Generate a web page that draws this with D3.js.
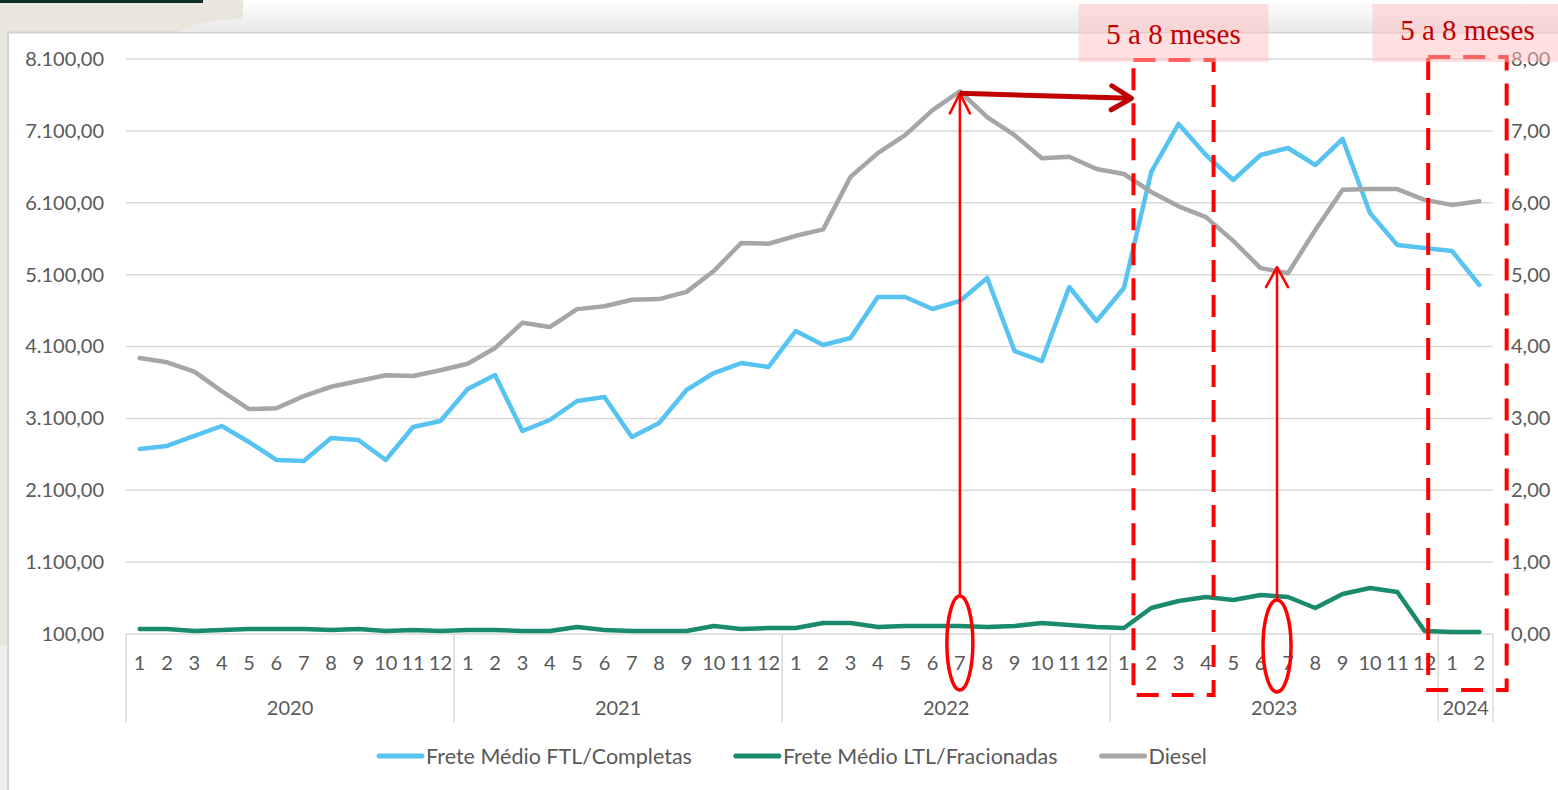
<!DOCTYPE html>
<html>
<head>
<meta charset="utf-8">
<script src="https://cdn.jsdelivr.net/npm/d3@7"></script>
<style>
  body { margin: 0; background: #ffffff; }
  svg { display: block; font-family: Lato, "Open Sans", sans-serif; }
</style>
</head>
<body>
<svg id="chart" width="1558" height="790"></svg>
<script>
"use strict";

// month labels and years
const months = [1,2,3,4,5,6,7,8,9,10,11,12, 1,2,3,4,5,6,7,8,9,10,11,12,
  1,2,3,4,5,6,7,8,9,10,11,12, 1,2,3,4,5,6,7,8,9,10,11,12, 1,2];
const years = ["2020", "2021", "2022", "2023", "2024"];
const yearCounts = [12, 12, 12, 12, 2];

// Frete Médio FTL/Completas (left axis)
const ftl = [2674, 2716, 2855, 2994, 2771, 2521, 2507, 2827, 2799, 2521, 2980, 3064,
  3509, 3703, 2924, 3077, 3342, 3397, 2841, 3036, 3495, 3731, 3870, 3815,
  4316, 4121, 4218, 4789, 4789, 4622, 4733, 5053, 4037, 3898, 4928, 4455,
  4914, 6528, 7196, 6764, 6417, 6764, 6862, 6625, 6987, 5958, 5512, 5470,
  5429, 4956];

// Frete Médio LTL/Fracionadas (left axis)
const ltl = [170, 170, 142, 156, 170, 170, 170, 156, 170, 142, 156, 142,
  156, 156, 142, 142, 197, 156, 142, 142, 142, 211, 170, 183,
  183, 253, 253, 197, 211, 211, 211, 197, 211, 253, 225, 197,
  183, 462, 559, 615, 573, 643, 615, 462, 657, 740, 684, 142,
  128, 128];

// Diesel (right axis)
const diesel = [3.84, 3.78, 3.65, 3.38, 3.13, 3.14, 3.31, 3.44, 3.52, 3.60, 3.59, 3.67,
  3.76, 3.98, 4.33, 4.27, 4.52, 4.56, 4.65, 4.66, 4.76, 5.05, 5.44, 5.43,
  5.54, 5.63, 6.36, 6.69, 6.94, 7.29, 7.55, 7.19, 6.94, 6.62, 6.64, 6.47,
  6.40, 6.15, 5.95, 5.80, 5.47, 5.09, 5.02, 5.62, 6.18, 6.19, 6.19, 6.04,
  5.97, 6.02];

const leftTicks = [100, 1100, 2100, 3100, 4100, 5100, 6100, 7100, 8100];
const rightTicks = [0, 1, 2, 3, 4, 5, 6, 7, 8];

const seriesList = [
  { name: "Frete Médio FTL/Completas", values: ftl, axis: "left", color: "#56c3f0" },
  { name: "Frete Médio LTL/Fracionadas", values: ltl, axis: "left", color: "#1a8a6c" },
  { name: "Diesel", values: diesel, axis: "right", color: "#a6a6a6" }
];

const textColor = "#595959";
const gridColor = "#d9d9d9";

const svg = d3.select("#chart");

const plot = { left: 126, right: 1493, top: 59, bottom: 634 };

const x = d3.scaleBand()
  .domain(d3.range(months.length))
  .range([plot.left, plot.right]);
const bw = x.bandwidth();
const xAt = i => plot.left + bw / 2 + i * bw;

const yL = d3.scaleLinear().domain([100, 8100]).range([plot.bottom, plot.top]);
const yR = d3.scaleLinear().domain([0, 8]).range([plot.bottom, plot.top]);

const ptBR = d3.formatLocale({ decimal: ",", thousands: ".", grouping: [3], currency: ["R$", ""] });
const fmtLeft = ptBR.format(",.2f");
const fmtRight = ptBR.format(".2f");

// slide background
function drawBackground()
{
  let grad = svg.append("defs").append("linearGradient")
    .attr("id", "topGrad")
    .attr("x1", 0).attr("y1", 0).attr("x2", 0).attr("y2", 1);
  grad.append("stop").attr("offset", "0%").attr("stop-color", "#ffffff");
  grad.append("stop").attr("offset", "100%").attr("stop-color", "#e8e8e8");

  svg.append("rect").attr("width", 1558).attr("height", 790).attr("fill", "#ffffff");
  svg.append("rect").attr("x", 0).attr("y", 0).attr("width", 1558).attr("height", 31)
    .attr("fill", "url(#topGrad)");
  svg.append("path")
    .attr("d", "M0,0 L243,0 L243,19 Q200,20 178,32 L7,32 L7,645 L0,645 Z")
    .attr("fill", "#e9e7dc");
  svg.append("rect").attr("x", 0).attr("y", 645).attr("width", 7).attr("height", 145)
    .attr("fill", "#efefef");
  svg.append("rect").attr("x", 0).attr("y", 0).attr("width", 203).attr("height", 3)
    .attr("fill", "#0e2e29");
  svg.append("path")
    .attr("d", "M8,790 L8,32.5 L1558,32.5")
    .attr("fill", "none")
    .attr("stroke", "#d4d4d4")
    .attr("stroke-width", 2);
}

function drawAxes()
{
  // gridlines
  svg.append("g")
    .selectAll("line")
    .data(leftTicks)
    .enter()
    .append("line")
    .attr("x1", plot.left).attr("x2", plot.right)
    .attr("y1", d => yL(d)).attr("y2", d => yL(d))
    .attr("stroke", gridColor)
    .attr("stroke-width", 1.5);

  // left axis
  let left = svg.append("g")
    .attr("transform", `translate(${plot.left - 22},0)`)
    .call(d3.axisLeft(yL).tickValues(leftTicks).tickFormat(fmtLeft).tickSize(0).tickPadding(0));
  left.select(".domain").remove();
  left.selectAll("text")
    .attr("fill", textColor)
    .style("font-size", "20px")
    .style("font-family", "Lato, sans-serif");

  // right axis
  let right = svg.append("g")
    .attr("transform", `translate(${plot.right + 18},0)`)
    .call(d3.axisRight(yR).tickValues(rightTicks).tickFormat(fmtRight).tickSize(0).tickPadding(0));
  right.select(".domain").remove();
  right.selectAll("text")
    .attr("fill", textColor)
    .style("font-size", "20px")
    .style("font-family", "Lato, sans-serif");

  // months
  let bottom = svg.append("g")
    .attr("transform", `translate(0,${plot.bottom})`)
    .call(d3.axisBottom(x).tickFormat(i => months[i]).tickSize(0).tickPadding(22));
  bottom.select(".domain").remove();
  bottom.selectAll("text")
    .attr("fill", textColor)
    .style("font-size", "20px")
    .style("font-family", "Lato, sans-serif");

  // year groups
  let starts = [0];
  yearCounts.forEach((c, k) => starts.push(starts[k] + c));

  svg.append("g")
    .selectAll("line")
    .data(starts)
    .enter()
    .append("line")
    .attr("x1", i => plot.left + i * bw).attr("x2", i => plot.left + i * bw)
    .attr("y1", plot.bottom).attr("y2", plot.bottom + 88)
    .attr("stroke", gridColor)
    .attr("stroke-width", 1.5);

  svg.append("g")
    .selectAll("text")
    .data(years)
    .enter()
    .append("text")
    .attr("x", (d, k) => plot.left + (starts[k] + yearCounts[k] / 2) * bw)
    .attr("y", plot.bottom + 81)
    .attr("text-anchor", "middle")
    .attr("fill", textColor)
    .style("font-size", "20px")
    .text(d => d);
}

function drawSeries()
{
  seriesList.forEach(s =>
  {
    let y = s.axis === "left" ? yL : yR;
    svg.append("path")
      .datum(s.values)
      .attr("fill", "none")
      .attr("stroke", s.color)
      .attr("stroke-width", 4.5)
      .attr("stroke-linejoin", "round")
      .attr("stroke-linecap", "round")
      .attr("d", d3.line().x((d, i) => xAt(i)).y(d => y(d)));
  });
}

function drawLegend()
{
  let legend = svg.append("g").attr("transform", "translate(0,756)");
  let items = legend.selectAll("g")
    .data(seriesList)
    .enter()
    .append("g");
  items.append("line")
    .attr("x1", 0).attr("x2", 43)
    .attr("stroke", d => d.color)
    .attr("stroke-width", 5)
    .attr("stroke-linecap", "round");
  items.append("text")
    .attr("x", 47)
    .attr("dy", "0.35em")
    .attr("fill", textColor)
    .style("font-size", "21.5px")
    .text(d => d.name);

  let widths = items.nodes().map(n => n.getBBox().width);
  let gap = 44;
  let total = d3.sum(widths) + gap * (widths.length - 1);
  let pos = 793 - total / 2;
  items.each(function (d, k)
  {
    d3.select(this).attr("transform", `translate(${pos},0)`);
    pos += widths[k] + gap;
  });
}

function arrowHead(g, tipX, tipY, angle, len, half, color, width)
{
  let a = Math.atan2(half, len);
  let l = Math.hypot(len, half);
  let p1 = [tipX - l * Math.cos(angle - a), tipY - l * Math.sin(angle - a)];
  let p2 = [tipX - l * Math.cos(angle + a), tipY - l * Math.sin(angle + a)];
  g.append("path")
    .attr("d", `M${p1[0]},${p1[1]} L${tipX},${tipY} L${p2[0]},${p2[1]}`)
    .attr("fill", "none")
    .attr("stroke", color)
    .attr("stroke-width", width)
    .attr("stroke-linecap", "round")
    .attr("stroke-linejoin", "round");
}

function drawAnnotations()
{
  let g = svg.append("g");
  let red = "#ff0000";
  let dark = "#c00000";

  // dashed windows
  let windows = [
    { from: 36.35, to: 39.28, top: plot.top + 1, bottom: plot.bottom + 61, base: 44 },
    { from: 47.13, to: 50.0, top: plot.top - 2, bottom: plot.bottom + 56, base: 40 }
  ];
  g.selectAll("rect.win")
    .data(windows)
    .enter()
    .append("rect")
    .classed("win", true)
    .attr("x", d => xAt(d.from))
    .attr("y", d => d.top)
    .attr("width", d => xAt(d.to) - xAt(d.from))
    .attr("height", d => d.bottom - d.top)
    .attr("fill", "none")
    .attr("stroke", red)
    .attr("stroke-width", 4)
    .attr("stroke-dasharray", "22 13");

  // labels
  let labels = g.selectAll("g.lab")
    .data(windows)
    .enter()
    .append("g")
    .classed("lab", true)
    .attr("transform", d => `translate(${(xAt(d.from) + xAt(d.to)) / 2},0)`);
  labels.append("rect")
    .attr("x", -95).attr("y", 4)
    .attr("width", 190).attr("height", 58)
    .attr("fill", "rgba(255,192,192,0.5)");
  labels.append("text")
    .attr("y", d => d.base)
    .attr("text-anchor", "middle")
    .attr("fill", dark)
    .style("font-family", "'Liberation Serif', 'DejaVu Serif', serif")
    .style("font-size", "29px")
    .text("5 a 8 meses");

  // peak arrow (Jul 2022)
  let peakX = xAt(30);
  let peakY = yR(diesel[30]) + 2;
  let ell1 = { cx: peakX, cy: plot.bottom + 9, rx: 13, ry: 47 };
  g.append("line")
    .attr("x1", peakX).attr("x2", peakX)
    .attr("y1", ell1.cy - ell1.ry).attr("y2", peakY)
    .attr("stroke", red).attr("stroke-width", 2.5);
  arrowHead(g, peakX, peakY, -Math.PI / 2, 20, 10, red, 2.5);
  g.append("ellipse")
    .attr("cx", ell1.cx).attr("cy", ell1.cy)
    .attr("rx", ell1.rx).attr("ry", ell1.ry)
    .attr("fill", "none").attr("stroke", red).attr("stroke-width", 3.5);

  // low arrow (mid 2023)
  let lowX = xAt(41.6);
  let lowY = yR(diesel[42]) - 6;
  let ell2 = { cx: lowX, cy: plot.bottom + 12, rx: 14, ry: 46 };
  g.append("line")
    .attr("x1", lowX).attr("x2", lowX)
    .attr("y1", ell2.cy - ell2.ry).attr("y2", lowY)
    .attr("stroke", red).attr("stroke-width", 2.5);
  arrowHead(g, lowX, lowY, -Math.PI / 2, 20, 11, red, 2.5);
  g.append("ellipse")
    .attr("cx", ell2.cx).attr("cy", ell2.cy)
    .attr("rx", ell2.rx).attr("ry", ell2.ry)
    .attr("fill", "none").attr("stroke", red).attr("stroke-width", 3.5);

  // lag arrow from peak to window
  let endX = xAt(windows[0].from) - 2;
  let endY = peakY + 5;
  g.append("line")
    .attr("x1", peakX).attr("y1", peakY)
    .attr("x2", endX).attr("y2", endY)
    .attr("stroke", dark).attr("stroke-width", 5);
  arrowHead(g, endX, endY, Math.atan2(endY - peakY, endX - peakX), 20, 12, dark, 5);
}

drawBackground();
drawAxes();
drawSeries();
drawLegend();
drawAnnotations();
</script>
</body>
</html>
